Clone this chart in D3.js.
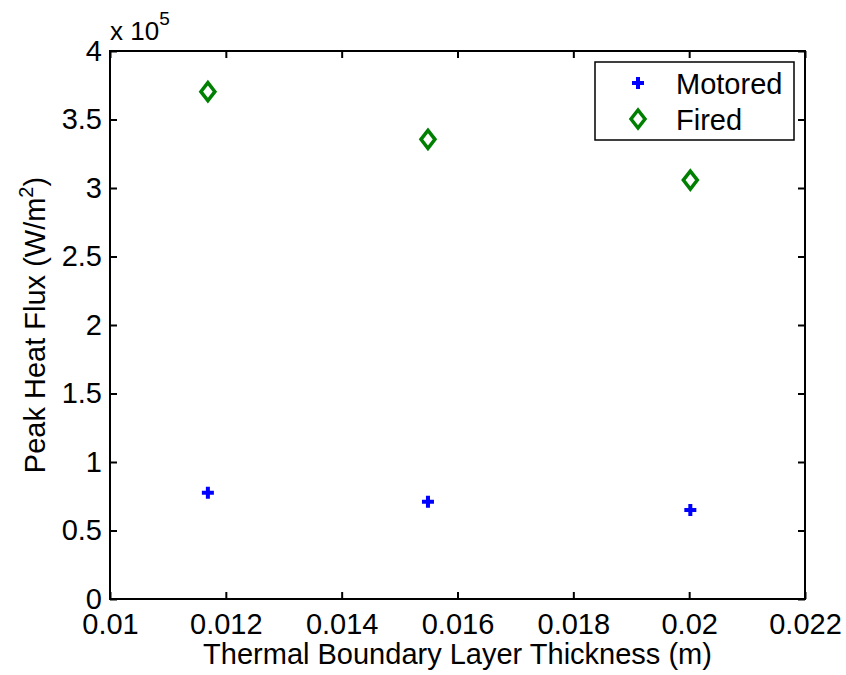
<!DOCTYPE html>
<html>
<head>
<meta charset="utf-8">
<script src="https://cdn.jsdelivr.net/npm/d3@7"></script>
<style>
  body { margin: 0; background: #fff; }
  svg { font-family: "Liberation Sans", Arial, sans-serif; }
</style>
</head>
<body>
<svg id="chart" width="846" height="675"></svg>
<script>
const width = 846;
const height = 675;

// Data
const thickness = [0.01169, 0.01549, 0.02002];
const motored = [77600, 71000, 65000];
const fired = [370300, 335500, 305800];
const xTicks = [0.01, 0.012, 0.014, 0.016, 0.018, 0.02, 0.022];
const yTicks = [0, 50000, 100000, 150000, 200000, 250000, 300000, 350000, 400000];

const margin = { top: 51, right: 41, bottom: 76, left: 110 };
const fontSize = 29;

const svg = d3.select('#chart');

const xScale = d3.scaleLinear()
    .domain([0.01, 0.022])
    .range([margin.left, width - margin.right]);

const yScale = d3.scaleLinear()
    .domain([0, 400000])
    .range([height - margin.bottom, margin.top]);

const tickLen = 7;

// Bottom axis
const xAxis = d3.axisBottom(xScale)
    .tickValues(xTicks)
    .tickFormat(d => d3.format('')(+d.toFixed(3)))
    .tickSizeInner(-tickLen)
    .tickSizeOuter(0)
    .tickPadding(14);

svg.append('g')
    .attr('transform', `translate(0, ${height - margin.bottom})`)
    .call(xAxis)
    .call(g => g.select('.domain').remove())
    .call(g => g.selectAll('.tick line').attr('stroke', '#000').attr('stroke-width', 2))
    .call(g => g.selectAll('.tick text').attr('font-size', fontSize).attr('fill', '#000').attr('font-family', 'Liberation Sans, Arial, sans-serif'));

// Top axis (ticks only)
svg.append('g')
    .attr('transform', `translate(0, ${margin.top})`)
    .call(d3.axisTop(xScale).tickValues(xTicks).tickSizeInner(-tickLen).tickSizeOuter(0).tickFormat(''))
    .call(g => g.select('.domain').remove())
    .call(g => g.selectAll('.tick line').attr('stroke', '#000').attr('stroke-width', 2));

// Left axis
const yAxis = d3.axisLeft(yScale)
    .tickValues(yTicks)
    .tickFormat(d => d3.format('')(d / 1e5))
    .tickSizeInner(-tickLen)
    .tickSizeOuter(0)
    .tickPadding(8);

svg.append('g')
    .attr('transform', `translate(${margin.left}, 0)`)
    .call(yAxis)
    .call(g => g.select('.domain').remove())
    .call(g => g.selectAll('.tick line').attr('stroke', '#000').attr('stroke-width', 2))
    .call(g => g.selectAll('.tick text').attr('font-size', fontSize).attr('fill', '#000').attr('font-family', 'Liberation Sans, Arial, sans-serif'));

// Right axis (ticks only)
svg.append('g')
    .attr('transform', `translate(${width - margin.right}, 0)`)
    .call(d3.axisRight(yScale).tickValues(yTicks).tickSizeInner(-tickLen).tickSizeOuter(0).tickFormat(''))
    .call(g => g.select('.domain').remove())
    .call(g => g.selectAll('.tick line').attr('stroke', '#000').attr('stroke-width', 2));

// Box
svg.append('rect')
    .attr('x', margin.left)
    .attr('y', margin.top)
    .attr('width', width - margin.left - margin.right)
    .attr('height', height - margin.top - margin.bottom)
    .attr('fill', 'none')
    .attr('stroke', '#000')
    .attr('stroke-width', 2);

// Exponent label
const expo = svg.append('text')
    .attr('x', margin.left)
    .attr('y', 40)
    .attr('font-size', 26)
    .attr('fill', '#000');
expo.append('tspan').text('x 10');
expo.append('tspan').attr('font-size', 19).attr('dy', -15).text('5');

// Axis labels
svg.append('text')
    .attr('x', (margin.left + width - margin.right) / 2)
    .attr('y', 664)
    .attr('text-anchor', 'middle')
    .attr('font-size', fontSize)
    .attr('fill', '#000')
    .text('Thermal Boundary Layer Thickness (m)');

const yLabel = svg.append('text')
    .attr('transform', `translate(45, ${(margin.top + height - margin.bottom) / 2}) rotate(-90)`)
    .attr('text-anchor', 'middle')
    .attr('font-size', fontSize)
    .attr('fill', '#000');
yLabel.append('tspan').text('Peak Heat Flux (W/m');
yLabel.append('tspan').attr('font-size', 20).attr('dy', -12).text('2');
yLabel.append('tspan').attr('dy', 12).text(')');

// Marker shapes
const plusPath = 'M-6,0H6M0,-6V6';
const diamondPath = 'M0,-9L7,0L0,9L-7,0Z';

const motoredData = thickness.map((t, i) => ({ x: t, y: motored[i] }));
const firedData = thickness.map((t, i) => ({ x: t, y: fired[i] }));

svg.append('g').selectAll('path')
    .data(motoredData)
    .enter().append('path')
    .attr('d', plusPath)
    .attr('transform', d => `translate(${xScale(d.x)}, ${yScale(d.y)})`)
    .attr('stroke', '#0000ff')
    .attr('stroke-width', 4)
    .attr('fill', 'none');

svg.append('g').selectAll('path')
    .data(firedData)
    .enter().append('path')
    .attr('d', diamondPath)
    .attr('transform', d => `translate(${xScale(d.x)}, ${yScale(d.y)})`)
    .attr('stroke', '#008000')
    .attr('stroke-width', 3.5)
    .attr('fill', 'none');

// Legend
const legend = svg.append('g');
legend.append('rect')
    .attr('x', 595)
    .attr('y', 62)
    .attr('width', 199)
    .attr('height', 78)
    .attr('fill', '#fff')
    .attr('stroke', '#000')
    .attr('stroke-width', 1.5);

const legendItems = [
    { name: 'Motored', path: plusPath, color: '#0000ff', width: 4, y: 83 },
    { name: 'Fired', path: diamondPath, color: '#008000', width: 3.5, y: 119 }
];

legendItems.forEach(item => {
    legend.append('path')
        .attr('d', item.path)
        .attr('transform', `translate(638, ${item.y})`)
        .attr('stroke', item.color)
        .attr('stroke-width', item.width)
        .attr('fill', 'none');
    legend.append('text')
        .attr('x', 676)
        .attr('y', item.y + 11)
        .attr('font-size', fontSize)
        .attr('fill', '#000')
        .text(item.name);
});
</script>
</body>
</html>
